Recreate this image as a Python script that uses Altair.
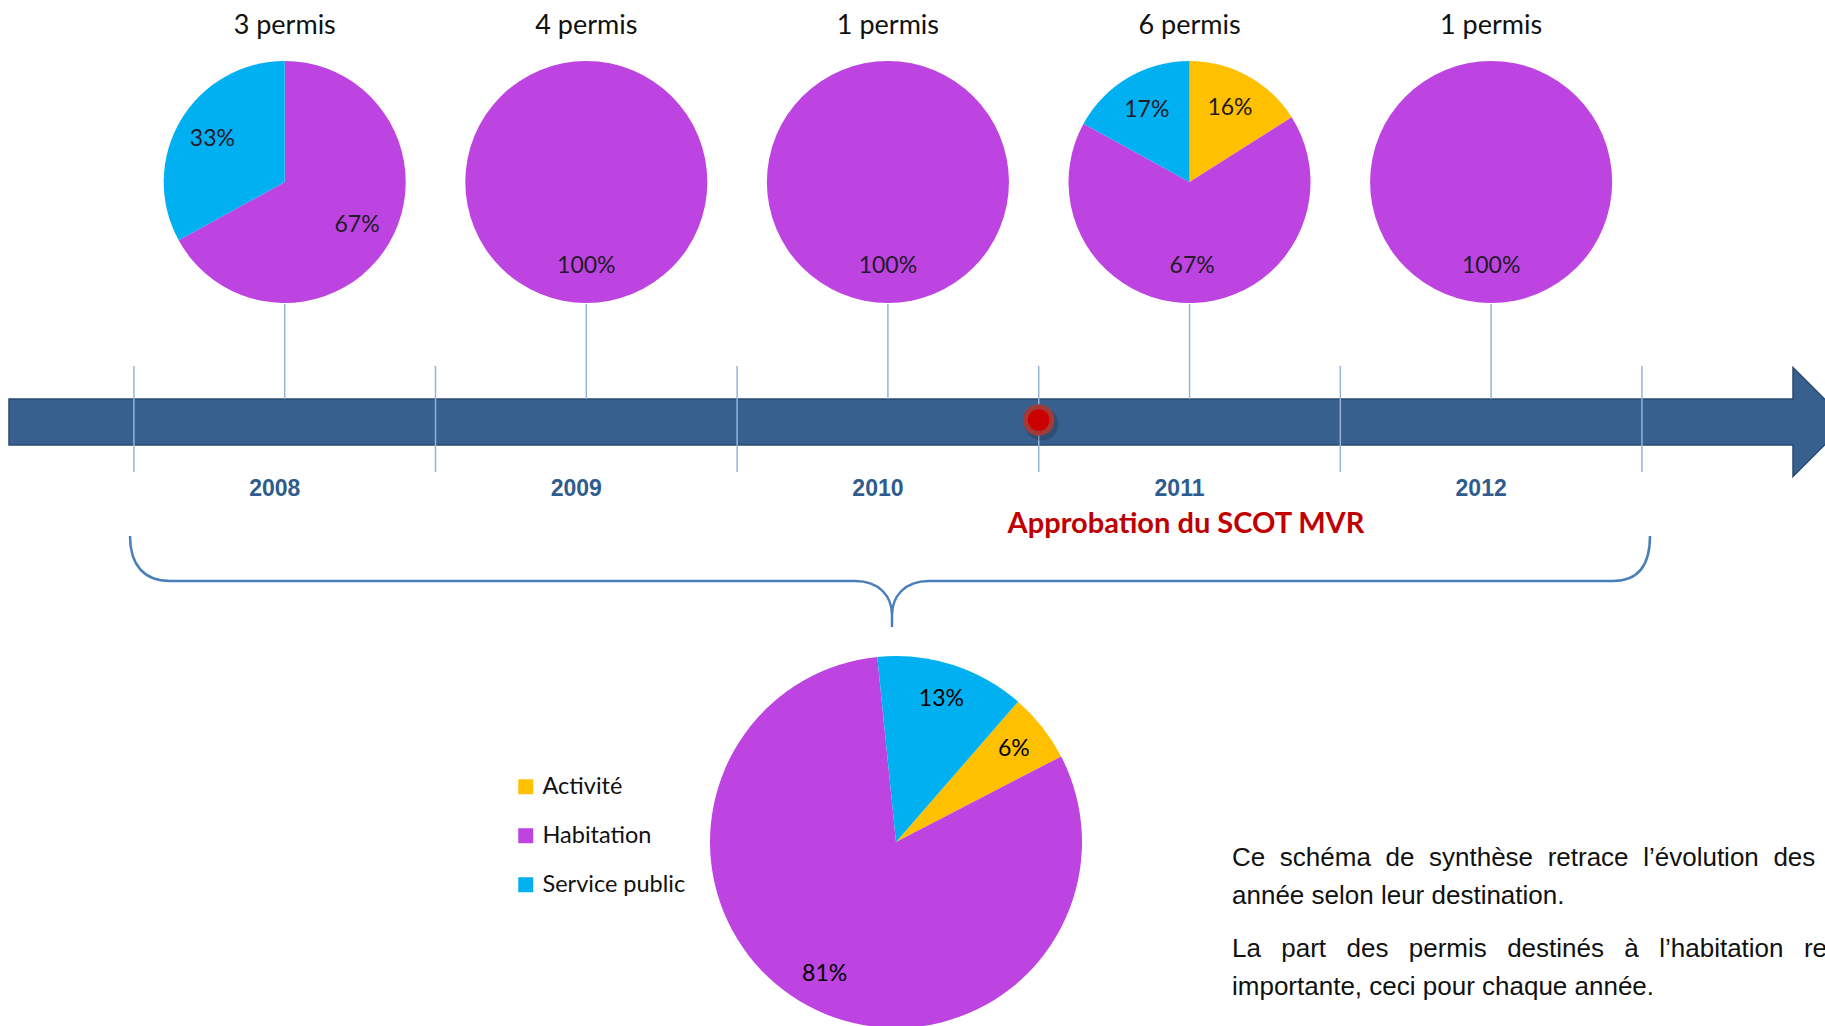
import math
import altair as alt
import pandas as pd

# ---------------- data ----------------
years = [2008, 2009, 2010, 2011, 2012]
permits = [3, 4, 1, 6, 1]
categories = ["Activité", "Habitation", "Service public"]
colors = ["#FFC000", "#BD44E0", "#00B0F0"]
share_activite = [0, 0, 0, 16, 0]
share_habitation = [67, 100, 100, 67, 100]
share_service = [33, 0, 0, 17, 0]
total_share = [6, 81, 13]  # Activité, Habitation, Service public
year_bounds = [2008, 2009, 2010, 2011, 2012, 2013]
scot_year = [2011]
scot_label = "Approbation du SCOT MVR"
paragraph1 = [
    "\u2009\u200a ".join(["Ce", "schéma", "de", "synthèse", "retrace", "l’évolution", "des"]),
    "année selon leur destination.",
]
paragraph2 = [
    "\u2002\u2009\u200a".join(["La", "part", "des", "permis", "destinés", "à", "l’habitation", "reste"]),
    "importante, ceci pour chaque année.",
]

W, H = 1825, 1026
FONT = "Lato"

# ---------------- tables ----------------
rows = []
shares = [share_activite, share_habitation, share_service]
for i, y in enumerate(years):
    for k, c in enumerate(categories):
        v = shares[k][i]
        if v > 0:
            rows.append({"year": y, "cat": c, "rank": k, "pct": v})
pie_df = pd.DataFrame(rows)
tot_df = pd.DataFrame({"cat": categories, "rank": [0, 1, 2], "pct": total_share})
yr_df = pd.DataFrame({"year": years, "n": permits})
bound_df = pd.DataFrame({"year": year_bounds})
scot_df = pd.DataFrame({"year": scot_year})
one = alt.Data(values=[{}])

xs = alt.Scale(domain=[2007.556, 2013.607], nice=False, zero=False)
X = lambda f: alt.X(f, scale=xs, axis=None)
cscale = alt.Scale(domain=categories, range=colors)
legend = alt.Legend(
    title=None, orient="none", legendX=514, legendY=775, symbolType="square",
    symbolSize=225, symbolStrokeWidth=0, labelFont=FONT, labelFontSize=23.5,
    labelColor="#111111", labelOffset=5, rowPadding=24, padding=0,
)
TWO_PI = 2 * math.pi

# ---------------- timeline ----------------
arrow = alt.Chart(one).mark_point(
    shape="M-1784,-23L0,-23L0,-54.5L54.5,0L0,54.5L0,23L-1784,23Z",
    filled=True, size=4, fill="#37608F", stroke="#2A4A70", strokeWidth=1.5, opacity=1,
).encode(x=alt.value(1793), y=alt.value(422))

bounds = alt.Chart(bound_df).mark_rule(color="#95B3D7", strokeWidth=1.5).encode(
    x=X("year:Q"), y=alt.value(366), y2=alt.value(472)
)

stems = alt.Chart(yr_df).transform_calculate(xc="datum.year + 0.5").mark_rule(
    color="#95B3D7", strokeWidth=1.5
).encode(x=X("xc:Q"), y=alt.value(304), y2=alt.value(399))

dot_shadow = alt.Chart(scot_df).mark_point(
    filled=True, shape="circle", size=1100, color="#000000", opacity=0.18
).encode(x=X("year:Q"), y=alt.value(424), xOffset=alt.value(3))

dot = alt.Chart(scot_df).mark_point(
    filled=True, shape="circle", size=707, fill="#CC0000", stroke="#A33A3A",
    strokeWidth=5, opacity=1,
).encode(x=X("year:Q"), y=alt.value(420))

year_labels = alt.Chart(yr_df).transform_calculate(
    xc="datum.year + 0.5", lab="'' + datum.year"
).mark_text(
    font="Liberation Sans", fontSize=23, fontWeight="bold", color="#2F5C8F", dx=-10
).encode(x=X("xc:Q"), y=alt.value(489), text="lab:N")

scot_text = alt.Chart(one).mark_text(
    text=scot_label, font=FONT, fontSize=29, fontWeight="bold", color="#C00000"
).encode(x=alt.value(1186), y=alt.value(524))

# ---------------- yearly pies ----------------
small_theta = alt.Scale(domain=[0, 100], range=[0, TWO_PI])


def year_pie(yr):
    base = alt.Chart(pie_df).transform_filter(
        alt.datum.year == yr
    ).transform_window(
        end="sum(pct)", sort=[alt.SortField("rank")]
    ).transform_calculate(
        start="datum.end - datum.pct",
    )
    return base.mark_arc(radius=121).encode(
        x=alt.X(datum=yr + 0.5, scale=xs, axis=None), y=alt.value(182),
        theta=alt.Theta("start:Q", scale=small_theta, stack=None), theta2="end:Q",
        color=alt.Color("cat:N", scale=cscale, legend=legend),
    )


pies = [year_pie(yr) for yr in years]

pie_labels = alt.Chart(pie_df).transform_window(
    end="sum(pct)", groupby=["year"], sort=[alt.SortField("rank")]
).transform_calculate(
    mid="datum.end - datum.pct / 2",
    xc="datum.year + 0.5",
    lab="datum.pct + '%'",
).mark_text(
    radius=84, font=FONT, fontSize=23, color="#231a2a"
).encode(
    x=X("xc:Q"), y=alt.value(182),
    theta=alt.Theta("mid:Q", scale=small_theta, stack=None), text="lab:N",
)

titles = alt.Chart(yr_df).transform_calculate(
    xc="datum.year + 0.5", lab="datum.n + ' permis'"
).mark_text(font=FONT, fontSize=27, color="#111111").encode(
    x=X("xc:Q"), y=alt.value(26), text="lab:N"
)

# ---------------- brace ----------------
brace = alt.Chart(one).mark_point(
    shape=(
        "M-762,-91C-762,-62 -748,-46 -722,-46L-37,-46C-12,-46 0,-30 0,-12L0,0"
        "M0,-12C0,-30 12,-46 37,-46L721,-46C746,-46 758,-62 758,-91"
    ),
    filled=False, size=4, stroke="#4A7EBB", strokeWidth=2.5, opacity=1,
).encode(x=alt.value(892), y=alt.value(627))

# ---------------- total pie ----------------
tot_base = alt.Chart(tot_df).transform_window(
    end="sum(pct)", sort=[alt.SortField("rank")]
).transform_calculate(
    start="datum.end - datum.pct",
    mid="datum.end - datum.pct / 2",
    lab="datum.pct + '%'",
)
big_start = 0.716
big_theta = alt.Scale(domain=[0, 100], range=[big_start, big_start + TWO_PI])
big_pie = tot_base.mark_arc(radius=186).encode(
    x=alt.value(896), y=alt.value(842),
    theta=alt.Theta("start:Q", scale=big_theta, stack=None), theta2="end:Q",
    color=alt.Color("cat:N", scale=cscale, legend=legend),
)
big_labels = tot_base.mark_text(radius=150, font=FONT, fontSize=23, color="#000000").encode(
    x=alt.value(896), y=alt.value(842),
    theta=alt.Theta("mid:Q", scale=big_theta, stack=None), text="lab:N",
)

# ---------------- paragraph ----------------
para1 = alt.Chart(one).mark_text(
    text=paragraph1, font="Liberation Sans", fontSize=26, lineHeight=38,
    align="left", baseline="middle", color="#111111",
).encode(x=alt.value(1232), y=alt.value(858))
para2 = alt.Chart(one).mark_text(
    text=paragraph2, font="Liberation Sans", fontSize=26, lineHeight=38,
    align="left", baseline="middle", color="#111111",
).encode(x=alt.value(1232), y=alt.value(949))

chart = alt.layer(
    arrow, bounds, stems, dot_shadow, dot, year_labels, scot_text,
    *pies, pie_labels, titles, brace, big_pie, big_labels, para1, para2,
).resolve_scale(theta="independent").properties(
    width=W, height=H, padding=0, autosize=alt.AutoSizeParams(type="none"),
    background="white",
).configure_view(stroke=None)

chart.save("out.html", embed_options={"renderer": "svg", "actions": False})
